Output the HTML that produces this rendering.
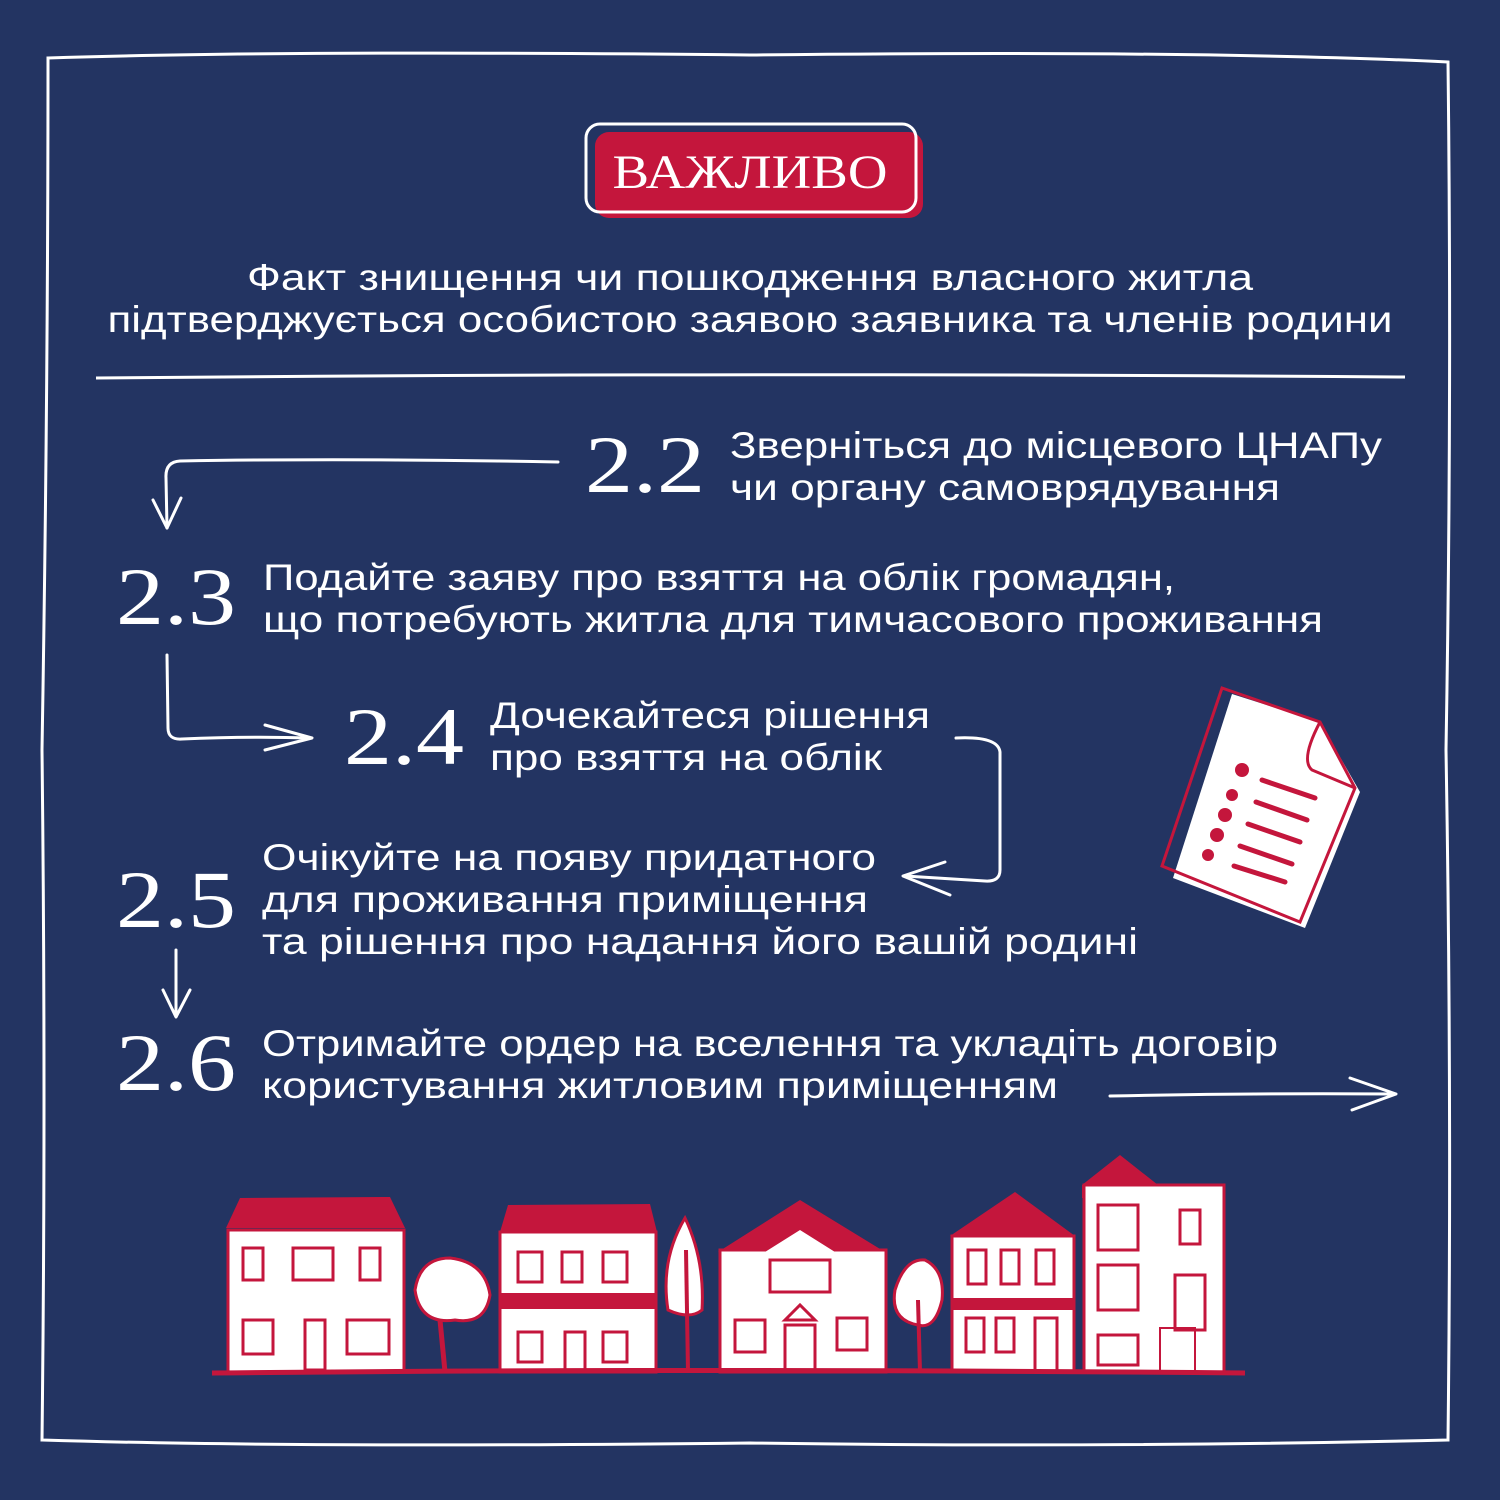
<!DOCTYPE html>
<html><head><meta charset="utf-8"><style>
html,body{margin:0;padding:0;background:#233462;}
svg{display:block}
.t{font-family:"Liberation Sans","DejaVu Sans",sans-serif;font-size:37px;fill:#fff;}
.n{font-family:"Liberation Serif",serif;font-size:82px;fill:#fff;}
.w{fill:#fff;stroke:#c4163c;stroke-width:3}
.r{fill:#c4163c}
.win{fill:none;stroke:#c4163c;stroke-width:3}
</style></head><body>
<svg width="1500" height="1500" viewBox="0 0 1500 1500" xmlns="http://www.w3.org/2000/svg">
<rect width="1500" height="1500" fill="#233462"/>
<!-- frame -->
<path d="M48 58 Q300 50 750 55 Q1200 50 1448 62 Q1452 400 1446 750 Q1452 1100 1448 1440 Q1100 1448 750 1443 Q300 1448 42 1440 Q46 1100 42 750 Q48 400 48 58 Z" fill="none" stroke="#fff" stroke-width="3"/>
<!-- badge -->
<rect x="595" y="132" width="328" height="86" rx="14" fill="#c4163c"/>
<rect x="586" y="124" width="330" height="88" rx="14" fill="none" stroke="#fff" stroke-width="3"/>
<text x="750" y="188" text-anchor="middle" font-family="Liberation Serif,serif" font-size="48" fill="#fff" textLength="275" lengthAdjust="spacingAndGlyphs">ВАЖЛИВО</text>
<text class="t" x="750" y="290" text-anchor="middle" textLength="1006" lengthAdjust="spacingAndGlyphs">Факт знищення чи пошкодження власного житла</text>
<text class="t" x="750" y="332" text-anchor="middle" textLength="1285" lengthAdjust="spacingAndGlyphs">підтверджується особистою заявою заявника та членів родини</text>
<path d="M96 378 Q750 372 1405 377" stroke="#fff" stroke-width="3" fill="none"/>
<!-- steps -->
<text class="n" x="585" y="492" textLength="120" lengthAdjust="spacingAndGlyphs">2.2</text>
<text class="t" x="730" y="458" textLength="652" lengthAdjust="spacingAndGlyphs">Зверніться до місцевого ЦНАПу</text>
<text class="t" x="730" y="500" textLength="550" lengthAdjust="spacingAndGlyphs">чи органу самоврядування</text>
<text class="n" x="116" y="624" textLength="120" lengthAdjust="spacingAndGlyphs">2.3</text>
<text class="t" x="263" y="590" textLength="912" lengthAdjust="spacingAndGlyphs">Подайте заяву про взяття на облік громадян,</text>
<text class="t" x="263" y="632" textLength="1060" lengthAdjust="spacingAndGlyphs">що потребують житла для тимчасового проживання</text>
<text class="n" x="344" y="764" textLength="120" lengthAdjust="spacingAndGlyphs">2.4</text>
<text class="t" x="490" y="728" textLength="440" lengthAdjust="spacingAndGlyphs">Дочекайтеся рішення</text>
<text class="t" x="490" y="770" textLength="392" lengthAdjust="spacingAndGlyphs">про взяття на облік</text>
<text class="n" x="116" y="927" textLength="120" lengthAdjust="spacingAndGlyphs">2.5</text>
<text class="t" x="262" y="870" textLength="614" lengthAdjust="spacingAndGlyphs">Очікуйте на появу придатного</text>
<text class="t" x="262" y="912" textLength="606" lengthAdjust="spacingAndGlyphs">для проживання приміщення</text>
<text class="t" x="262" y="954" textLength="876" lengthAdjust="spacingAndGlyphs">та рішення про надання його вашій родині</text>
<text class="n" x="116" y="1090" textLength="120" lengthAdjust="spacingAndGlyphs">2.6</text>
<text class="t" x="262" y="1056" textLength="1016" lengthAdjust="spacingAndGlyphs">Отримайте ордер на вселення та укладіть договір</text>
<text class="t" x="262" y="1098" textLength="796" lengthAdjust="spacingAndGlyphs">користування житловим приміщенням</text>
<!-- arrows -->
<g fill="none" stroke="#fff" stroke-width="3" stroke-linecap="round" stroke-linejoin="round">
<path d="M558 462 Q350 458 180 461 Q165 462 166 478 L167 528"/><path d="M153 500 L167 528 L181 498"/>
<path d="M167 655 L168 728 Q168 740 182 739 Q250 736 310 738"/><path d="M265 725 L312 738 L265 750"/>
<path d="M956 738 Q998 736 1000 752 L1000 870 Q1000 882 985 881 L905 876"/><path d="M945 862 L903 876 L950 895"/>
<path d="M176 950 L176 1015"/><path d="M163 990 L176 1017 L190 990"/>
<path d="M1110 1096 Q1250 1093 1395 1094"/><path d="M1350 1078 L1396 1094 L1352 1110"/>
</g>
<!-- document -->
<g>
<path d="M1232 694 L1320 722 L1360 792 L1305 928 L1173 878 Z" fill="#fff"/>
<path d="M1222 688 L1320 722 L1355 788 L1300 922 L1162 866 Z" fill="none" stroke="#c4163c" stroke-width="3"/>
<path d="M1320 722 Q1300 760 1312 770 L1355 788" fill="none" stroke="#c4163c" stroke-width="3"/>
<g class="r"><circle cx="1242" cy="770" r="7"/><circle cx="1232" cy="795" r="6"/><circle cx="1225" cy="815" r="7"/><circle cx="1217" cy="835" r="7"/><circle cx="1208" cy="855" r="6"/></g>
<g stroke="#c4163c" stroke-width="5" stroke-linecap="round"><path d="M1262 780 L1315 798"/><path d="M1256 802 L1307 820"/><path d="M1248 824 L1300 842"/><path d="M1240 846 L1292 864"/><path d="M1234 866 L1285 882"/></g>
</g>
<!-- houses -->
<g>
<path d="M226 1228 L240 1198 L390 1197 L405 1228 Z" class="r"/>
<rect x="228" y="1230" width="176" height="142" class="w"/>
<rect x="243" y="1248" width="20" height="32" class="win"/><rect x="293" y="1248" width="40" height="32" class="win"/><rect x="360" y="1248" width="20" height="32" class="win"/>
<rect x="243" y="1320" width="30" height="34" class="win"/><rect x="305" y="1320" width="20" height="50" class="win"/><rect x="347" y="1320" width="42" height="34" class="win"/>
<path d="M415 1290 Q420 1258 450 1258 Q485 1262 490 1295 Q485 1325 455 1320 Q420 1325 415 1290Z" class="w"/>
<path d="M440 1320 L445 1372" stroke="#c4163c" stroke-width="5"/>
<path d="M500 1232 L508 1205 L650 1204 L657 1232 Z" class="r"/>
<rect x="500" y="1232" width="156" height="140" class="w"/>
<rect x="500" y="1293" width="156" height="16" class="r"/>
<rect x="518" y="1252" width="24" height="30" class="win"/><rect x="562" y="1252" width="20" height="30" class="win"/><rect x="603" y="1252" width="24" height="30" class="win"/>
<rect x="518" y="1332" width="24" height="30" class="win"/><rect x="565" y="1332" width="20" height="38" class="win"/><rect x="603" y="1332" width="24" height="30" class="win"/>
<path d="M685 1218 Q705 1260 702 1310 Q690 1320 668 1310 Q660 1260 685 1218Z" class="w"/><path d="M686 1250 L688 1372" stroke="#c4163c" stroke-width="4"/>
<path d="M718 1252 L800 1200 L885 1252 Z" class="r"/>
<rect x="720" y="1250" width="166" height="122" class="w"/>
<path d="M800 1230 L835 1252 L835 1372 L765 1372 L765 1252Z" fill="#fff"/>
<rect x="770" y="1260" width="60" height="32" class="win"/><path d="M785 1320 L800 1305 L815 1320Z" class="win"/><rect x="785" y="1325" width="30" height="45" class="win"/>
<rect x="735" y="1320" width="30" height="32" class="win"/><rect x="837" y="1318" width="30" height="32" class="win"/>
<path d="M895 1290 Q905 1258 925 1260 Q945 1270 942 1300 Q935 1330 918 1325 Q890 1320 895 1290Z" class="w"/><path d="M918 1300 L920 1372" stroke="#c4163c" stroke-width="4"/>
<path d="M950 1236 L1015 1192 L1075 1236 Z" class="r"/>
<rect x="952" y="1236" width="122" height="136" class="w"/>
<rect x="952" y="1298" width="122" height="12" class="r"/>
<rect x="968" y="1250" width="18" height="34" class="win"/><rect x="1001" y="1250" width="18" height="34" class="win"/><rect x="1036" y="1250" width="18" height="34" class="win"/>
<rect x="966" y="1318" width="18" height="34" class="win"/><rect x="996" y="1318" width="18" height="34" class="win"/><rect x="1035" y="1318" width="22" height="54" class="win"/>
<path d="M1082 1185 L1120 1155 L1158 1185 L1225 1186 L1225 1198 L1082 1198Z" class="r"/>
<rect x="1084" y="1185" width="140" height="187" class="w"/>
<rect x="1098" y="1205" width="40" height="45" class="win"/><rect x="1098" y="1265" width="40" height="45" class="win"/><rect x="1180" y="1210" width="20" height="34" class="win"/>
<rect x="1175" y="1275" width="30" height="55" class="win"/><rect x="1098" y="1335" width="40" height="30" class="win"/>
<rect x="1160" y="1328" width="35" height="44" fill="none" stroke="#c4163c" stroke-width="2"/>
</g>
<path d="M212 1373 Q700 1368 1245 1373" stroke="#c4163c" stroke-width="5" fill="none"/>
</svg>
</body></html>
